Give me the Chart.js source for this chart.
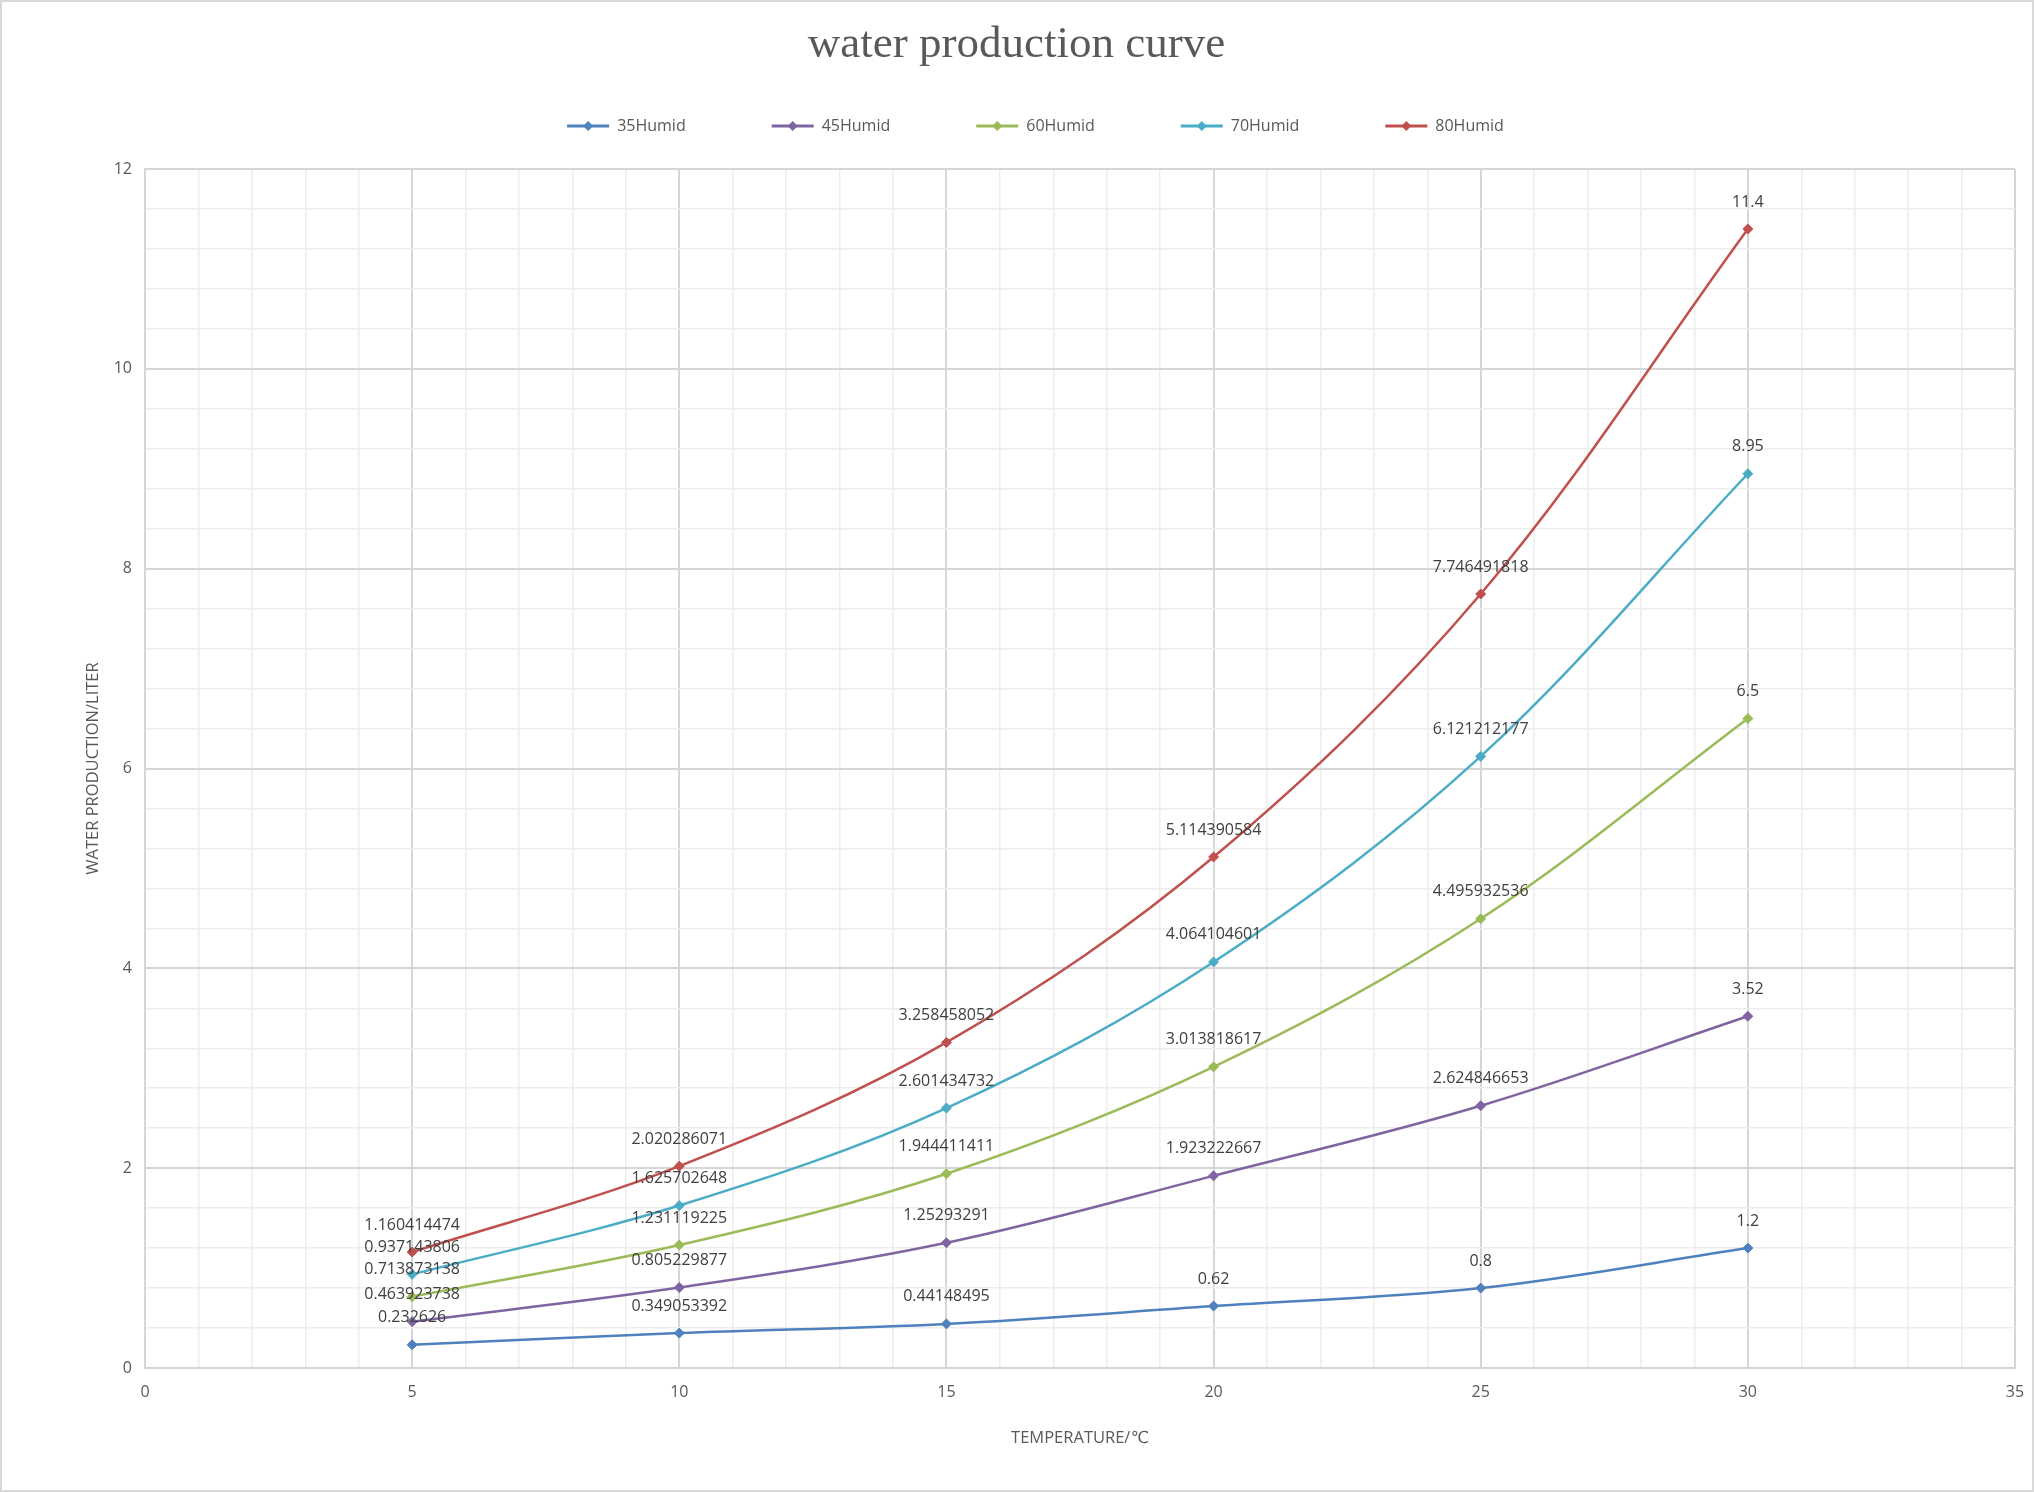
<!DOCTYPE html>
<html>
<head>
<meta charset="utf-8">
<title>water production curve</title>
<script src="https://cdn.jsdelivr.net/npm/chart.js@4.4.1/dist/chart.umd.min.js"></script>
<style>
  html, body { margin: 0; padding: 0; background: #fff; }
  canvas { display: block; }
</style>
</head>
<body>
<canvas id="chart" width="2034" height="1492"></canvas>
<script>
// temperatures on the x axis (°C)
let temperatures = [5, 10, 15, 20, 25, 30];

// water production (liter) per humidity level
let humid35 = [0.232626, 0.349053392, 0.44148495, 0.62, 0.8, 1.2];
let humid45 = [0.463923738, 0.805229877, 1.25293291, 1.923222667, 2.624846653, 3.52];
let humid60 = [0.713873138, 1.231119225, 1.944411411, 3.013818617, 4.495932536, 6.5];
let humid70 = [0.937143806, 1.625702648, 2.601434732, 4.064104601, 6.121212177, 8.95];
let humid80 = [1.160414474, 2.020286071, 3.258458052, 5.114390584, 7.746491818, 11.4];

let seriesNames = ['35Humid', '45Humid', '60Humid', '70Humid', '80Humid'];
let seriesValues = [humid35, humid45, humid60, humid70, humid80];
let seriesColors = ['#4f81bd', '#8064a2', '#9bbb59', '#4bacc6', '#c0504d'];

// labelled ticks
let xTickLabels = [0, 5, 10, 15, 20, 25, 30, 35];
let yTickLabels = [0, 2, 4, 6, 8, 10, 12];

const textFont = "'Open Sans', 'DejaVu Sans', sans-serif";
const textColor = '#595959';

// value shown above every point
const valueLabels = {
  id: 'valueLabels',
  afterDatasetsDraw(chart) {
    const ctx = chart.ctx;
    ctx.save();
    ctx.font = "16px " + textFont;
    ctx.fillStyle = '#404040';
    ctx.textAlign = 'center';
    ctx.textBaseline = 'middle';
    seriesValues.forEach((vals, i) => {
      chart.getDatasetMeta(i).data.forEach((pt, j) => {
        ctx.fillText(String(vals[j]), pt.x, pt.y - 27);
      });
    });
    ctx.restore();
  }
};

// the original has title and legend sitting a little right of centre
const nudgeHeader = {
  id: 'nudgeHeader',
  afterLayout(chart) {
    chart.titleBlock.left += 9;
    chart.titleBlock.right += 9;
    chart.legend.left += 28;
    chart.legend.right += 28;
  }
};

// diamond marker on the legend lines + outer frame
const legendMarks = {
  id: 'legendMarks',
  afterDraw(chart) {
    const ctx = chart.ctx;
    ctx.save();
    chart.legend.legendHitBoxes.forEach((box, i) => {
      const cx = box.left + 21;
      const cy = box.top + 8;
      ctx.fillStyle = seriesColors[i];
      ctx.beginPath();
      ctx.moveTo(cx, cy - 5);
      ctx.lineTo(cx + 5, cy);
      ctx.lineTo(cx, cy + 5);
      ctx.lineTo(cx - 5, cy);
      ctx.closePath();
      ctx.fill();
    });
    ctx.strokeStyle = '#d9d9d9';
    ctx.lineWidth = 2;
    ctx.strokeRect(1, 1, chart.width - 2, chart.height - 2);
    ctx.restore();
  }
};

let datasets = seriesNames.map((name, i) => ({
  label: name,
  data: temperatures.map((t, j) => ({ x: t, y: seriesValues[i][j] })),
  borderColor: seriesColors[i],
  backgroundColor: seriesColors[i],
  borderWidth: 2.5,
  tension: 0.35,
  pointStyle: 'rectRot',
  pointRadius: 5,
  pointBorderWidth: 1,
  fill: false
}));

new Chart(document.getElementById('chart'), {
  type: 'line',
  data: { datasets: datasets },
  plugins: [nudgeHeader, valueLabels, legendMarks],
  options: {
    responsive: false,
    animation: false,
    layout: { padding: { top: 0, left: 0, right: 19, bottom: 0 } },
    plugins: {
      title: {
        display: true,
        text: 'water production curve',
        color: textColor,
        font: { family: "'Liberation Serif', 'DejaVu Serif', serif", size: 45, weight: 'normal', lineHeight: 1.2 },
        padding: { top: 18, bottom: -40 }
      },
      subtitle: {
        display: true,
        text: '',
        weight: 100,
        font: { size: 25, lineHeight: 1 },
        padding: 0
      },
      legend: {
        position: 'top',
        labels: {
          boxWidth: 42,
          boxHeight: 3,
          padding: 86,
          color: textColor,
          font: { family: textFont, size: 16 },
          generateLabels: chart => Chart.defaults.plugins.legend.labels.generateLabels(chart)
            .map(l => Object.assign(l, { lineWidth: 0 }))
        }
      },
      tooltip: { enabled: false }
    },
    scales: {
      x: {
        type: 'linear',
        min: 0,
        max: 35,
        afterFit: s => { s.height = 124; s.paddingRight = 0; },
        ticks: {
          stepSize: 1,
          autoSkip: false,
          maxRotation: 0,
          padding: 15,
          color: textColor,
          font: { family: textFont, size: 16 },
          callback: v => xTickLabels.includes(v) ? String(v) : ''
        },
        grid: {
          drawTicks: false,
          color: c => xTickLabels.includes(c.tick.value) ? '#d6d6d6' : '#ededed',
          lineWidth: c => xTickLabels.includes(c.tick.value) ? 2 : 1.5
        },
        border: { display: true, color: '#d6d6d6', width: 2 },
        title: {
          display: true,
          text: 'TEMPERATURE/℃',
          color: textColor,
          font: { family: textFont, size: 16.5, lineHeight: 1.2 },
          padding: { top: 0, bottom: 44 }
        }
      },
      y: {
        min: 0,
        max: 12,
        afterFit: s => { s.width = 145; },
        ticks: {
          stepSize: 0.4,
          autoSkip: false,
          padding: 13,
          color: textColor,
          font: { family: textFont, size: 16 },
          callback: v => yTickLabels.includes(v) ? String(v) : ''
        },
        grid: {
          drawTicks: false,
          color: c => yTickLabels.includes(c.tick.value) ? '#d6d6d6' : '#ededed',
          lineWidth: c => yTickLabels.includes(c.tick.value) ? 2 : 1.5
        },
        border: { display: true, color: '#d6d6d6', width: 2 },
        title: {
          display: true,
          text: 'WATER PRODUCTION/LITER',
          color: textColor,
          font: { family: textFont, size: 16.5, lineHeight: 1.2 },
          padding: { top: 83, bottom: 0 }
        }
      }
    }
  }
});
</script>
</body>
</html>
